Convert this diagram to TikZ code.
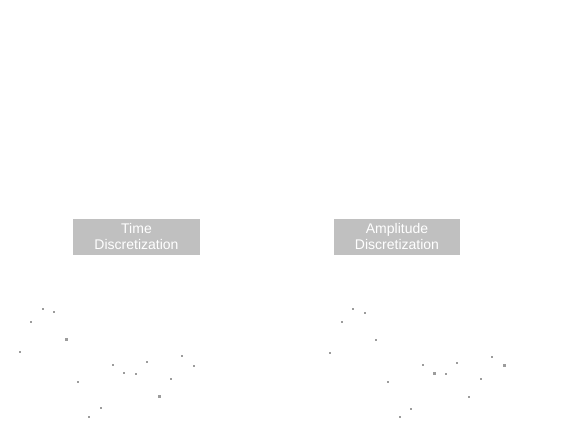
\documentclass[tikz,border=0pt]{standalone}
\usepackage{fontspec}
\setmainfont{Liberation Sans}
\definecolor{boxgrey}{HTML}{C0C0C0}
\definecolor{speckgrey}{HTML}{9C9C9C}
\tikzset{
  stagebox/.style={fill=boxgrey,text=white,align=center,inner sep=0pt,
    minimum width=95.25pt,minimum height=27pt,font=\fontsize{10.5}{12}\selectfont},
  speck/.style={fill=speckgrey}
}
\begin{document}
\begin{tikzpicture}[x=0.75pt,y=-0.75pt]
		\useasboundingbox (0,0) rectangle (564,440);
		\fill [boxgrey] (73,219) rectangle (200,255);
		\fill [boxgrey] (334,219) rectangle (460,255);
		\node [stagebox,fill=none] (timebox) at (136.5,236) {Time\\Discretization};
		\node [stagebox,fill=none] (ampbox) at (397,236) {Amplitude\\Discretization};
		% left samples
		\foreach \x/\y/\s in {42.7/308.7/2,54.3/311.7/2,31.3/321.7/2,66.3/339/3,20/351.7/2,
		112.7/364.7/2,147.3/361.7/2,181.7/356/2,194.3/365.7/2,124.3/372.7/2,135.7/373.7/2,
		77.7/381.7/2,170.7/378.7/2,159.3/396/3,100.7/407.7/2,89.3/416.7/2}
		\fill [speck] (\x-\s/2,\y-\s/2) rectangle (\x+\s/2,\y+\s/2);
		% right samples
		\foreach \x/\y/\s in {352.7/309/2,364.7/312.7/2,342/322/2,376.3/339.7/2,330/352.7/2,
		422.7/365/2,457.3/362.7/2,491.7/356.7/2,504.3/365.7/2.5,434.3/373.3/3,445.7/374.3/2,
		388.3/381.7/2,481/378.7/2,469.3/396.7/2,411.3/408.7/2,400/417/2}
		\fill [speck] (\x-\s/2,\y-\s/2) rectangle (\x+\s/2,\y+\s/2);
\end{tikzpicture}
\end{document}
